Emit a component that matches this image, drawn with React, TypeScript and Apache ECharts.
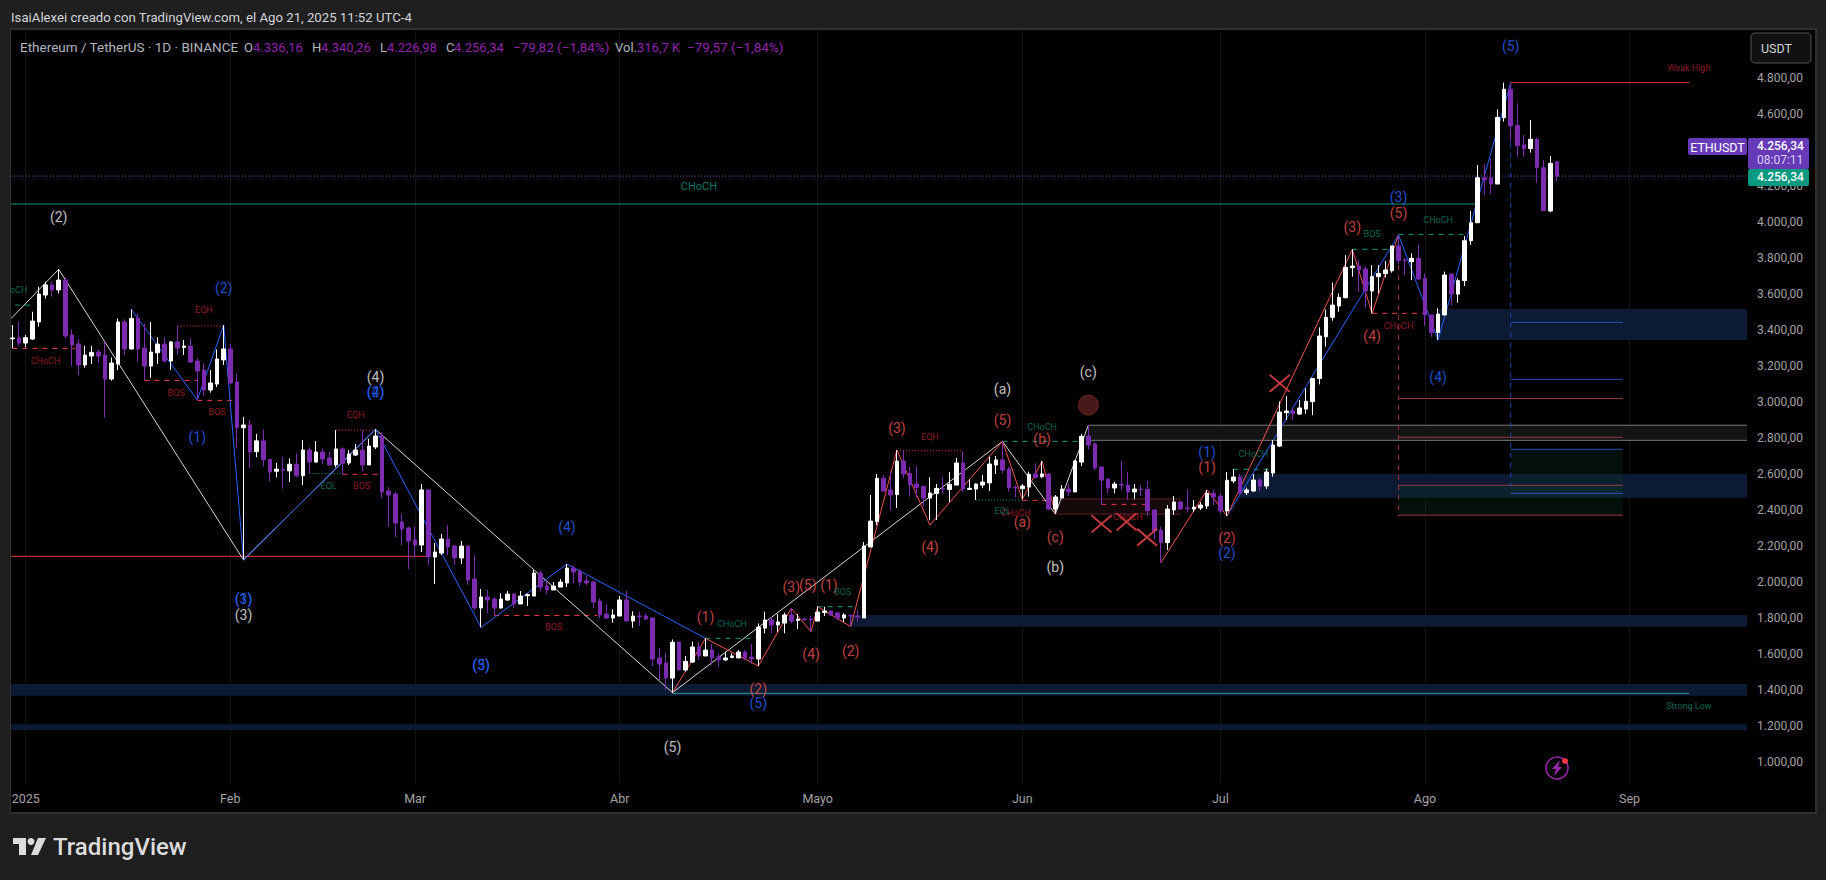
import React, { useEffect, useRef } from "react";
import * as echarts from "echarts";

const FONT = "Roboto, 'Noto Sans', sans-serif";
const firstDay = -2;
const opens = [
  3352,3356,3328,3350,3445,3595,3651,3623,3678,3373,
  3323,3206,3256,3278,3261,3128,3211,3445,3295,3467,
  3300,3200,3274,3322,3228,3334,3304,3311,3228,3178,
  3067,3100,3234,3295,3111,2857,2872,2724,2784,2681,
  2615,2625,2617,2654,2590,2733,2666,2722,2689,2650,
  2739,2661,2705,2733,2650,2750,2811,2505,2489,2333,
  2300,2233,2205,2511,2138,2160,2238,2199,2133,2199,
  2016,1855,1916,1905,1855,1899,1932,1877,1923,1921,
  2049,1977,1955,1971,1994,2077,2060,2005,1999,1893,
  1821,1799,1810,1899,1782,1810,1810,1799,1577,1549,
  1465,1666,1510,1554,1638,1588,1621,1582,1566,1580,
  1577,1610,1582,1571,1743,1788,1760,1771,1816,1786,
  1793,1793,1782,1830,1838,1827,1799,1814,1810,1799,
  2194,2335,2576,2511,2485,2672,2603,2544,2531,2466,
  2492,2522,2514,2538,2661,2514,2516,2538,2550,2650,
  2678,2627,2525,2518,2527,2600,2585,2600,2405,2466,
  2516,2500,2666,2811,2767,2639,2572,2522,2542,2538,
  2500,2516,2514,2400,2288,2218,2400,2444,2411,2405,
  2411,2422,2492,2477,2394,2561,2583,2496,2505,2566,
  2533,2605,2755,2941,2950,2933,2961,3002,3131,3363,
  3471,3534,3580,3747,3756,3740,3617,3697,3714,3730,
  3868,3790,3780,3799,3688,3484,3386,3484,3712,3600,
  3675,3897,3997,4247,4247,4212,4581,4739,4538,4429,
  4409,4461,4303,4062,4336,
];
const closes = [
  3356,3328,3358,3450,3600,3651,3623,3678,3367,3317,
  3206,3261,3276,3256,3128,3217,3445,3295,3465,3295,
  3200,3278,3322,3228,3334,3300,3311,3222,3172,3067,
  3106,3239,3295,3106,2857,2872,2722,2784,2679,2611,
  2627,2621,2654,2590,2733,2666,2722,2683,2650,2739,
  2659,2711,2733,2650,2755,2811,2500,2483,2327,2294,
  2227,2205,2511,2140,2166,2238,2194,2133,2199,2010,
  1855,1916,1899,1855,1905,1932,1877,1921,1929,2049,
  1971,1955,1977,1999,2077,2055,1999,1994,1888,1816,
  1799,1816,1899,1782,1810,1806,1793,1571,1543,1465,
  1664,1510,1558,1638,1588,1621,1577,1566,1577,1588,
  1610,1577,1571,1749,1788,1760,1777,1816,1782,1793,
  1790,1790,1832,1838,1816,1799,1816,1810,1805,2199,
  2338,2576,2505,2483,2672,2600,2539,2525,2466,2494,
  2520,2516,2542,2661,2516,2520,2544,2555,2655,2678,
  2622,2522,2522,2533,2598,2581,2600,2405,2472,2516,
  2500,2672,2809,2761,2633,2566,2522,2544,2538,2500,
  2516,2513,2396,2285,2218,2405,2444,2405,2407,2416,
  2427,2492,2472,2394,2565,2583,2494,2511,2566,2533,
  2611,2761,2944,2950,2935,2967,3004,3131,3367,3471,
  3539,3582,3749,3756,3734,3617,3697,3715,3734,3868,
  3786,3786,3799,3684,3484,3386,3489,3706,3600,3675,
  3897,3997,4247,4235,4212,4583,4739,4535,4425,4409,
  4461,4303,4064,4327,4256,
];
const lows = [
  3298,3311,3304,3345,3419,3576,3586,3604,3352,3200,
  3150,3191,3211,3215,2913,3119,3178,3261,3293,3224,
  3122,3135,3211,3219,3178,3267,3261,3219,3011,3033,
  3052,3083,3206,3100,2742,2125,2631,2693,2642,2559,
  2580,2518,2555,2580,2539,2603,2663,2655,2646,2637,
  2600,2650,2700,2613,2650,2739,2466,2307,2249,2205,
  2071,2136,2166,2094,1988,2149,2149,2094,2099,1983,
  1840,1747,1825,1816,1850,1895,1855,1877,1866,1921,
  1947,1932,1955,1971,1971,1992,1977,1983,1855,1797,
  1792,1773,1810,1782,1745,1755,1788,1532,1454,1399,
  1384,1510,1501,1549,1566,1588,1538,1528,1560,1575,
  1577,1566,1543,1532,1714,1714,1721,1714,1769,1738,
  1784,1723,1782,1810,1810,1788,1777,1751,1779,1799,
  2194,2316,2501,2399,2411,2576,2474,2470,2418,2344,
  2344,2492,2444,2538,2500,2511,2455,2522,2505,2600,
  2603,2501,2470,2459,2474,2576,2576,2399,2377,2466,
  2477,2500,2644,2737,2622,2427,2492,2492,2511,2455,
  2459,2477,2366,2236,2106,2177,2372,2400,2388,2388,
  2400,2405,2427,2381,2366,2548,2487,2483,2501,2505,
  2516,2585,2750,2900,2900,2928,2933,2927,3098,3308,
  3452,3502,3576,3697,3613,3526,3493,3604,3693,3719,
  3767,3706,3678,3678,3423,3363,3345,3484,3539,3552,
  3645,3873,3997,4151,4157,4212,4559,4448,4364,4364,
  4387,4220,4064,4055,4227,
];
const highs = [
  3428,3445,3373,3502,3641,3669,3669,3738,3693,3404,
  3350,3313,3311,3293,3335,3248,3465,3460,3515,3493,
  3437,3445,3360,3360,3339,3423,3345,3354,3243,3215,
  3178,3293,3428,3323,3156,2918,2900,2823,2847,2681,
  2662,2693,2687,2714,2789,2748,2783,2742,2722,2844,
  2748,2733,2767,2841,2796,2848,2830,2529,2500,2377,
  2307,2307,2544,2514,2216,2266,2316,2205,2227,2205,
  2149,1960,1955,1914,1936,1949,1938,1949,1936,2066,
  2060,2001,1999,2016,2099,2094,2071,2033,2007,1908,
  1875,1847,1921,1949,1836,1834,1825,1803,1632,1603,
  1680,1666,1588,1668,1668,1688,1655,1603,1612,1603,
  1621,1621,1655,1769,1834,1806,1821,1829,1853,1821,
  1803,1810,1862,1862,1843,1834,1825,1814,1844,2222,
  2483,2600,2594,2616,2733,2733,2640,2644,2531,2581,
  2544,2581,2611,2689,2726,2570,2548,2594,2696,2700,
  2781,2640,2538,2544,2613,2659,2672,2603,2483,2538,
  2548,2678,2822,2872,2778,2639,2572,2557,2672,2613,
  2544,2538,2561,2400,2307,2427,2477,2450,2514,2455,
  2444,2511,2511,2492,2611,2628,2600,2524,2600,2577,
  2629,2789,3003,3033,2965,3011,3076,3133,3415,3515,
  3664,3604,3817,3849,3790,3756,3762,3762,3784,3868,
  3929,3799,3827,3873,3715,3484,3521,3725,3712,3688,
  3923,4062,4318,4323,4355,4627,4776,4776,4661,4485,
  4568,4472,4346,4368,4340,
];

const priceTicks = [1000,1200,1400,1600,1800,2000,2200,2400,2600,2800,3000,3200,3400,3600,3800,4000,4200,4600,4800];
const monthDays = [0,31,59,90,120,151,181,212,243];
const monthNames = ["2025","Feb","Mar","Abr","Mayo","Jun","Jul","Ago","Sep"];

const whiteWave = [[-2.2,3465],[5,3738],[33,2122],[53,2848],[98,1384],[148,2781],[156,2377],[161,2870]];
const blueWave1 = [[16,3515],[26,3011],[30,3428],[33,2122],[53,2848],[69,1747],[82,2099],[103,1686]];
const blueWave2 = [[182,2366],[208,3929],[214,3345],[225,4776]];
const redWave1 = [[98,1384],[103,1686],[111,1532],[116,1853],[119,1723],[120,1862],[125,1751],[132,2733],[137,2316],[148,2781],[151,2459],[154,2672],[156,2377]];
const redWave2 = [[172,2106],[179,2511],[182,2366],[201,3849],[204,3493],[208,3929]];

const whiteLabels = [[5,4030,"(2)"],[53,3139,"(4)"],[33,1818,"(3)"],[98,1082,"(5)"],[148,3072,"(a)"],[161,3167,"(c)"],[156,2082,"(b)"]];
const blueLabels = [[30,3632,"(2)"],[26,2805,"(1)"],[33,1906,"(3)"],[33,1906,"(1)"],[53,3053,"(2)"],[53,3053,"(4)"],[69,1535,"(5)"],[69,1535,"(3)"],[82,2303,"(4)"],[111,1325,"(5)"],[179,2720,"(1)"],[182,2160,"(2)"],[208,4140,"(3)"],[214,3139,"(4)"],[225,4980,"(5)"]];
const redLabels = [[103,1806,"(1)"],[111,1402,"(2)"],[116,1973,"(3)"],[118.5,1981,"(5)"],[121.7,1983,"(1)"],[119,1599,"(4)"],[125,1614,"(2)"],[132,2854,"(3)"],[137,2192,"(4)"],[148,2900,"(5)"],[151,2331,"(a)"],[154,2793,"(b)"],[156,2250,"(c)"],[179,2637,"(1)"],[182,2244,"(2)"],[201,3975,"(3)"],[204,3365,"(4)"],[208,4049,"(5)"]];
const redSmallLabels = [[3,3228,"CHoCH"],[27,3511,"EQH"],[22.8,3048,"BOS"],[29,2944,"BOS"],[50.9,2531,"BOS"],[50,2928,"EQH"],[80,1749,"BOS"],[137,2804,"EQH"],[150,2383,"CHoCH"],[167,2362,"CHoCH"],[208,3423,"CHoCH"],[252,4856,"Weak High"]];
const tealSmallLabels = [[-2,3623,"CHoCH"],[45.9,2531,"EQL"],[107,1766,"CHoCH"],[123.8,1945,"BOS"],[148,2394,"EQL"],[154,2859,"CHoCH"],[186,2711,"CHoCH"],[204,3933,"BOS"],[214,4012,"CHoCH"],[252,1310,"Strong Low"]];
const tealBigLabels = [[102,4201,"CHoCH"]];

const redDash = [[-2,7.5,3298],[18,26,3120],[26,32,3009],[48,54,2598],[71,86.6,1813],[151,155,2453],[163,170,2431],[204,212,3493]];
const tealDash = [[-1.6,1.1,3539],[103,111,1686],[120,126,1862],[148,160,2781],[183,189,2626],[201,207,3849],[208,218,3932]];
const redDot = [[23,30,3423],[47,53,2844],[132,142,2729]];
const tealDot = [[43,48,2602],[144,151,2455]];
const solidTeal = [[-2.2,220,4101]];
const solidCyan = [[98,252,1380]];
const solidRed = [[-2.2,61,2142],[225,252,4776]];
const fibRed = [[208,242,3020],[208,242,2804],[208,242,2537],[208,242,2371]];
const fibBlue = [[225,242,3443],[225,242,3126],[225,242,2737],[225,242,2492]];
const grayZoneEdges = [[161,260.8,2871],[161,260.8,2787]];
const darkRedEdges = [[156,175,2461],[156,175,2377]];
const lastPrice = 4256.34;

const navyZones = [[-2.2,260.8,1432,1367],[-2.2,260.8,1208,1176],[125,260.8,1816,1750],[184,260.8,2600,2468],[214,260.8,3517,3345]];
const grayZone = [[161,260.8,2871,2787]];
const darkRedZone = [[156,175,2461,2377]];
const greenBoxes = [[208,242,2537,2371],[225,242,2737,2492]];

const crosses = [[190,3104],[163,2322],[166.8,2334],[169.9,2248]];
const redDot2 = [[161,2983]];

const segs = (rows: number[][]) => {
  const out: any[] = [];
  rows.forEach((r) => { out.push([r[0], r[2]], [r[1], r[2]], [r[1], null]); });
  return out;
};
const lineS = (data: any, color: string, width = 1, type: any = "solid", z = 2) => ({
  type: "line", data, symbol: "none", silent: true, connectNulls: false, z,
  lineStyle: { color, width, type },
});
const textS = (data: any, color: string, size: number, z = 6) => ({
  type: "scatter", data, symbolSize: 1, silent: true, z,
  itemStyle: { color: "transparent" },
  label: { show: true, position: "inside", color, fontSize: size, fontFamily: FONT, formatter: (p: any) => p.value[2] },
});
const areaS = (rows: number[][], color: string, z = 1) => ({
  type: "line", data: [], silent: true, z,
  markArea: {
    silent: true, z,
    itemStyle: { color },
    data: rows.map((r) => [{ xAxis: r[0], yAxis: r[2] }, { xAxis: r[1], yAxis: r[3] }]),
  },
});
const fmtPrice = (v: number) => `${Math.floor(v / 1000)}.${String(v % 1000).padStart(3, "0")},00`;

const tx = (x: number, y: number, text: string, fill: string, size = 12, extra: any = {}) => ({
  type: "text", x, y, z: 100, silent: true,
  style: { text, fill, font: `${extra.weight || 400} ${size}px ${FONT}`, textVerticalAlign: "middle", textAlign: extra.align || "left" },
});

export default function App() {
  const ref = useRef<HTMLDivElement>(null);
  useEffect(() => {
    const chart = echarts.init(ref.current!, undefined, { renderer: "svg" });
    const grayL = "#b2b5be";
    const purpleV = "#8e24aa";
    chart.setOption({
      animation: false,
      backgroundColor: "#1f1f1f",
      grid: { left: 11, top: 30, width: 1736, height: 753, show: false },
      xAxis: {
        type: "value", min: -2.227, max: 260.8,
        axisLine: { show: false },
        axisTick: { show: false, customValues: monthDays },
        splitLine: { show: true, lineStyle: { color: "#141414", width: 1 } },
        axisLabel: {
          show: true, customValues: monthDays, color: "#a3a3a3", fontSize: 12.5, fontFamily: FONT, margin: 9,
          formatter: (v: number) => monthNames[monthDays.indexOf(v)] ?? "",
        },
      },
      yAxis: {
        type: "value", position: "right", min: 881.6, max: 5068.6, scale: true,
        axisLine: { show: false },
        axisTick: { show: false, customValues: priceTicks },
        splitLine: { show: false },
        axisLabel: {
          show: true, customValues: priceTicks, color: "#a3a3a3", fontSize: 12, fontFamily: FONT, margin: 10,
          formatter: (v: number) => fmtPrice(v),
        },
      },
      series: [
        areaS(navyZones, "#0d1a33", 1),
        areaS(grayZone, "#141414", 1),
        areaS(darkRedZone, "#140808", 1),
        areaS(greenBoxes, "rgba(10,60,35,0.25)", 1),
        lineS(segs(grayZoneEdges), "#787878", 1),
        lineS(segs(darkRedEdges), "#5c2226", 1),
        lineS(segs(solidTeal), "#089981", 1),
        lineS(segs(solidCyan), "#2a9aa0", 1),
        lineS(segs(solidRed), "#f23645", 1),
        lineS(segs(fibRed), "#9c3a3f", 1),
        lineS(segs(fibBlue), "#2a50b8", 1),
        lineS(segs(redDash), "#f23645", 1, [5, 5]),
        lineS(segs(tealDash), "#089981", 1, [5, 5]),
        lineS(segs(redDot), "#f23645", 1, [1, 2]),
        lineS(segs(tealDot), "#089981", 1, [1, 2]),
        lineS([[208, 3929], [208, 2366]], "#9c2f38", 1, [5, 5]),
        lineS([[225, 4776], [225, 2529]], "#1f45b5", 1, [5, 5]),
        lineS([[-2.227, lastPrice], [260.8, lastPrice]], "#6a4bc4", 1, [1, 2]),
        lineS(whiteWave, "#d8d8d8", 1, "solid", 3),
        lineS(blueWave1, "#2962ff", 1, "solid", 3),
        lineS(blueWave2, "#2962ff", 1, "solid", 3),
        lineS(redWave1, "#ef5350", 1, "solid", 3),
        lineS(redWave2, "#ef5350", 1, "solid", 3),
        {
          type: "candlestick", z: 4, silent: true, barWidth: 4,
          encode: { x: 0, y: [1, 2, 3, 4] },
          data: opens.map((o, i) => [firstDay + i, o, closes[i], lows[i], highs[i]]),
          itemStyle: { color: "#ffffff", color0: "#7b2cb0", borderColor: "#ffffff", borderColor0: "#7b2cb0", borderWidth: 1 },
        },
        {
          type: "scatter", data: crosses, silent: true, z: 5,
          symbol: "path://M0 0L10 8M10 0L0 8", symbolSize: [20, 17],
          itemStyle: { color: "none", borderColor: "#f0484e", borderWidth: 2 },
        },
        {
          type: "scatter", data: redDot2, silent: true, z: 5, symbol: "circle", symbolSize: 20,
          itemStyle: { color: "#5a1f1f", borderColor: "#7a2a2a", borderWidth: 1 },
        },
        textS(whiteLabels, "#f0f0f0", 14),
        textS(blueLabels, "#2962ff", 14),
        textS(redLabels, "#ef5350", 14),
        textS(redSmallLabels, "#b2202e", 9),
        textS(tealSmallLabels, "#0b7f6a", 9),
        textS(tealBigLabels, "#089981", 11),
      ],
      graphic: [
        { type: "rect", z: -20, silent: true, shape: { x: 10, y: 29, width: 1806, height: 784 }, style: { fill: "#000", stroke: "#303030", lineWidth: 2 } },
        { type: "rect", z: 90, silent: true, shape: { x: 0, y: 28, width: 10, height: 786 }, style: { fill: "#1f1f1f" } },
        tx(11, 17, "IsaiAlexei creado con TradingView.com, el Ago 21, 2025 11:52 UTC-4", "#d1d4dc", 13.2),
        tx(20, 47, "Ethereum / TetherUS · 1D · BINANCE", grayL, 13.5),
        tx(244, 47, "O", grayL, 13), tx(253, 47, "4.336,16", purpleV, 13),
        tx(312, 47, "H", grayL, 13), tx(321, 47, "4.340,26", purpleV, 13),
        tx(380, 47, "L", grayL, 13), tx(387, 47, "4.226,98", purpleV, 13),
        tx(446, 47, "C", grayL, 13), tx(454, 47, "4.256,34", purpleV, 13),
        tx(513, 47, "−79,82 (−1,84%)", purpleV, 13.5),
        tx(615, 47, "Vol.", grayL, 13), tx(637, 47, "316,7 K", purpleV, 13), tx(687, 47, "−79,57 (−1,84%)", purpleV, 13.5),
        { type: "rect", z: 100, silent: true, shape: { x: 1751, y: 33, width: 60, height: 30, r: 4 }, style: { fill: "#111", stroke: "#3a3a3a", lineWidth: 1.5 } },
        tx(1761, 48, "USDT", "#d1d4dc", 12.5),
        { type: "rect", z: 100, silent: true, shape: { x: 1688, y: 138, width: 59, height: 17, r: 2 }, style: { fill: "#673ab7" } },
        tx(1717.5, 147, "ETHUSDT", "#fff", 12.5, { align: "center" }),
        { type: "rect", z: 100, silent: true, shape: { x: 1748, y: 138, width: 61, height: 31, r: 2 }, style: { fill: "#673ab7" } },
        tx(1757, 146, "4.256,34", "#fff", 12, { weight: 500 }),
        tx(1757, 160, "08:07:11", "#d8cdf0", 12),
        { type: "rect", z: 100, silent: true, shape: { x: 1748, y: 169, width: 61, height: 17, r: 2 }, style: { fill: "#089981" } },
        tx(1757, 177, "4.256,34", "#fff", 12, { weight: 500 }),
        { type: "circle", z: 100, silent: true, shape: { cx: 1557, cy: 768, r: 11 }, style: { fill: "none", stroke: "#9c27b0", lineWidth: 1.5 } },
        { type: "polygon", z: 100, silent: true, shape: { points: [[1560, 760], [1552, 769], [1556, 769], [1554, 776], [1562, 767], [1558, 767]] }, style: { fill: "#9c27b0" } },
        { type: "circle", z: 101, silent: true, shape: { cx: 1565, cy: 761, r: 3 }, style: { fill: "#f23645" } },
        { type: "polygon", z: 100, silent: true, shape: { points: [[13, 838], [26, 838], [26, 855], [19, 855], [19, 844], [13, 844]] }, style: { fill: "#dcdcdc" } },
        { type: "polygon", z: 100, silent: true, shape: { points: [[38, 838], [46, 838], [38, 855], [31, 855]] }, style: { fill: "#dcdcdc" } },
        { type: "circle", z: 100, silent: true, shape: { cx: 31, cy: 841.5, r: 3.5 }, style: { fill: "#dcdcdc" } },
        tx(53, 847, "TradingView", "#dcdcdc", 24, { weight: 500 }),
      ],
    });
    return () => chart.dispose();
  }, []);
  return <div ref={ref} style={{ position: "fixed", left: 0, top: 0, width: 1826, height: 880 }} />;
}
